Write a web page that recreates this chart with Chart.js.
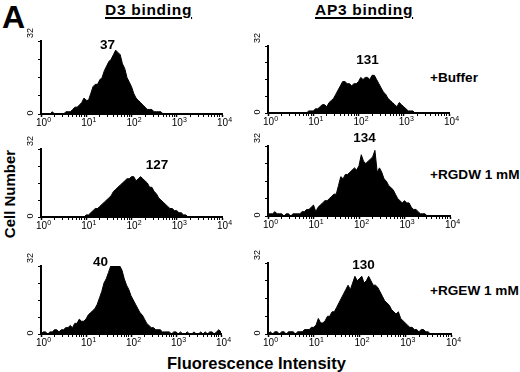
<!DOCTYPE html>
<html>
<head>
<meta charset="utf-8">
<script src="https://cdn.jsdelivr.net/npm/chart.js@4.4.1/dist/chart.umd.min.js"></script>
<style>
  body { margin:0; background:#fff; }
  #fig { position:relative; width:520px; height:372px; overflow:hidden; font-family:"Liberation Sans", Arial, sans-serif; font-weight:bold; color:#000; }
  #fig canvas { position:absolute; }
  .t { position:absolute; white-space:nowrap; line-height:1; }
  .peak { transform:translateX(-50%); font-size:13.5px; }
  .cond { font-size:13.6px; left:430px; }
  .title { font-size:15.5px; top:2px; letter-spacing:0.7px; text-decoration:underline; text-decoration-thickness:1.5px; text-underline-offset:2px; }
</style>
</head>
<body>
<div id="fig">
  <div class="t" style="left:2px;top:1px;font-size:32px;">A</div>
  <div class="t title" style="left:105px;">D3 binding</div>
  <div class="t title" style="left:315px;">AP3 binding</div>
  <div class="t cond" style="top:71px;">+Buffer</div>
  <div class="t cond" style="top:168px;">+RGDW 1 mM</div>
  <div class="t cond" style="top:284px;">+RGEW 1 mM</div>
  <div class="t" style="left:8.5px;top:194px;font-size:15px;transform:translate(-50%,-50%) rotate(-90deg);">Cell Number</div>
  <div class="t" style="left:167px;top:354.5px;font-size:16.5px;">Fluorescence Intensity</div>
</div>
<script>
// channel positions, log10 of fluorescence (4-decade log amp)
const CHANNELS = Array.from({length: 81}, (_, i) => +(i * 0.05).toFixed(2));

// cell counts per channel
const D3_BUFFER = [
  0,0,0,0,0,1,0,0,0,0,
  0,1,1,1,2,3,3,4,5,7,
  6,6,9,12,13,13,15,16,19,21,
  23,24,26,28,27,26,22,20,16,14,
  12,9,7,6,5,4,3,2,2,2,
  1,1,1,1,0,0,0,0,0,0,
  0,0,0,0,0,0,0,0,0,0,
  0,0,0,0,0,0,0,0,0,0,
  0
];
const AP3_BUFFER = [
  0,0,0,0,0,0,0,0,0,0,
  0,0,0,0,0,0,0,0,1,1,
  1,2,2,3,4,4,3,5,6,7,
  9,11,13,15,15,14,14,13,14,14,
  15,17,16,17,17,16,18,18,16,14,
  12,10,9,7,6,5,4,3,5,4,
  3,2,1,1,1,0,0,0,0,0,
  0,0,0,0,0,0,0,0,0,0,
  0
];
const D3_RGDW = [
  0,0,0,0,0,0,0,0,0,0,
  0,0,0,0,0,0,0,0,0,0,
  1,1,2,3,4,4,5,6,7,8,
  9,10,12,13,14,15,16,17,18,18,
  19,19,17,18,19,18,17,16,14,14,
  12,11,9,8,7,6,5,4,4,3,
  3,2,2,1,1,0,0,0,0,0,
  0,0,0,0,0,0,0,0,0,0,
  0
];
const AP3_RGDW = [
  1,1,1,2,1,1,1,0,1,1,
  0,1,1,1,1,2,2,3,3,4,
  5,2,4,5,6,7,7,8,9,10,
  10,14,18,17,19,19,20,21,22,21,
  23,28,25,24,25,26,27,30,20,22,
  20,17,16,14,13,12,10,8,7,6,
  7,6,6,4,3,3,2,1,1,1,
  0,0,0,0,0,0,0,0,0,0,
  0
];
const D3_RGEW = [
  0,1,1,0,1,1,2,2,1,2,
  2,3,3,4,3,5,5,7,6,6,
  7,9,10,11,12,14,17,20,24,26,
  29,32,32,32,32,32,30,26,23,21,
  18,16,14,12,10,9,7,5,4,3,
  3,2,2,2,1,1,1,1,0,1,
  1,0,1,0,0,1,0,0,1,0,
  0,1,0,1,0,1,1,0,1,2,
  1
];
const AP3_RGEW = [
  0,1,0,1,1,0,1,1,0,1,
  1,1,0,1,1,1,2,2,2,3,
  3,4,7,5,5,6,8,8,10,10,
  12,14,16,18,20,22,20,23,26,24,
  25,26,23,24,26,24,22,22,21,19,
  17,15,14,13,11,10,9,10,7,6,
  5,4,3,3,2,2,1,2,2,1,
  1,0,0,0,0,0,0,0,0,0,
  0
];

// mean fluorescence shown over each histogram
const PEAK_MFI = [37, 131, 127, 134, 40, 130];

const DECADES = [0, 1, 2, 3, 4];
const Y_TICKS = [0, 8, 16, 24, 32];
const Y_LABELS = [0, 32];

// plot area of each panel in the figure: left, right, top, bottom
const panels = [
  {counts: D3_BUFFER,  box: [41, 222, 40.5, 113], peak: [107.5, 38]},
  {counts: AP3_BUFFER, box: [268, 449, 46, 113],  peak: [367.5, 53]},
  {counts: D3_RGDW,    box: [41, 222, 149, 217],  peak: [157, 158]},
  {counts: AP3_RGDW,   box: [268, 450, 146, 216], peak: [364.5, 131]},
  {counts: D3_RGEW,    box: [41, 221, 266, 334],  peak: [100.5, 255]},
  {counts: AP3_RGEW,   box: [268, 451, 263, 334], peak: [363.5, 258]},
];

const PAD_L = 34, PAD_T = 14, PAD_R = 14, PAD_B = 14;
const FONT = '"Liberation Sans", Arial, sans-serif';

// minor/major ticks of a log axis, in decades
const xTicks = [];
DECADES.slice(0, -1).forEach(d => {
  for (let k = 1; k <= 9; k++) xTicks.push({value: d + Math.log10(k), major: k === 1});
});
xTicks.push({value: 4, major: true});

const axisText = {
  id: 'axisText',
  afterDraw(chart) {
    const {ctx, chartArea, scales: {x, y}} = chart;
    ctx.save();
    ctx.fillStyle = '#000';
    // 10^n decade labels
    DECADES.forEach(d => {
      const px = x.getPixelForValue(d);
      ctx.font = '10px ' + FONT;
      ctx.textAlign = 'center';
      ctx.textBaseline = 'alphabetic';
      ctx.fillText('10', px + 0.5, chartArea.bottom + 11.5);
      const w = ctx.measureText('10').width;
      ctx.font = '7px ' + FONT;
      ctx.textAlign = 'left';
      ctx.fillText(String(d), px + 0.5 + w / 2 + 0.3, chartArea.bottom + 7.5);
    });
    // sideways 0 and 32
    ctx.font = '9px ' + FONT;
    ctx.textBaseline = 'middle';
    Y_LABELS.forEach(v => {
      const py = y.getPixelForValue(v);
      ctx.save();
      ctx.translate(chartArea.left - 10.5, v === 0 ? py - 1 : py - 3);
      ctx.rotate(-Math.PI / 2);
      ctx.textAlign = v === 0 ? 'center' : 'left';
      ctx.fillText(String(v), 0, 0);
      ctx.restore();
    });
    ctx.restore();
  }
};

const fig = document.getElementById('fig');

panels.forEach((p, i) => {
  const [L, R, T, B] = p.box;
  const cv = document.createElement('canvas');
  cv.width = Math.round(R - L + PAD_L + PAD_R);
  cv.height = Math.round(B - T + PAD_T + PAD_B);
  cv.style.left = (L - PAD_L) + 'px';
  cv.style.top = (T - PAD_T) + 'px';
  fig.appendChild(cv);

  const lbl = document.createElement('div');
  lbl.className = 't peak';
  lbl.style.left = p.peak[0] + 'px';
  lbl.style.top = p.peak[1] + 'px';
  lbl.textContent = PEAK_MFI[i];
  fig.appendChild(lbl);

  new Chart(cv, {
    type: 'line',
    data: {
      datasets: [{
        data: CHANNELS.map((c, j) => ({x: c, y: p.counts[j]})),
        fill: 'origin',
        backgroundColor: '#000',
        borderColor: '#000',
        borderWidth: 1,
        pointRadius: 0,
        tension: 0
      }]
    },
    options: {
      responsive: false,
      animation: false,
      events: [],
      layout: {padding: {left: 0, top: PAD_T, right: PAD_R, bottom: 0}},
      plugins: {legend: {display: false}, tooltip: {enabled: false}},
      scales: {
        x: {
          type: 'linear', min: 0, max: 4,
          afterBuildTicks: s => { s.ticks = xTicks.map(t => ({...t})); },
          afterFit: s => { s.height = PAD_B; },
          ticks: {display: false},
          grid: {drawOnChartArea: false, drawTicks: true, tickLength: 3, tickColor: '#000',
                 tickWidth: c => (c.tick && c.tick.major ? 1.5 : 1)},
          border: {color: '#000', width: 2}
        },
        y: {
          min: 0, max: 32,
          afterBuildTicks: s => { s.ticks = Y_TICKS.map(v => ({value: v})); },
          afterFit: s => { s.width = PAD_L; },
          ticks: {display: false},
          grid: {drawOnChartArea: false, drawTicks: true, tickLength: 3, tickColor: '#000', tickWidth: 1},
          border: {color: '#000', width: 2}
        }
      }
    },
    plugins: [axisText]
  });
});
</script>
</body>
</html>
